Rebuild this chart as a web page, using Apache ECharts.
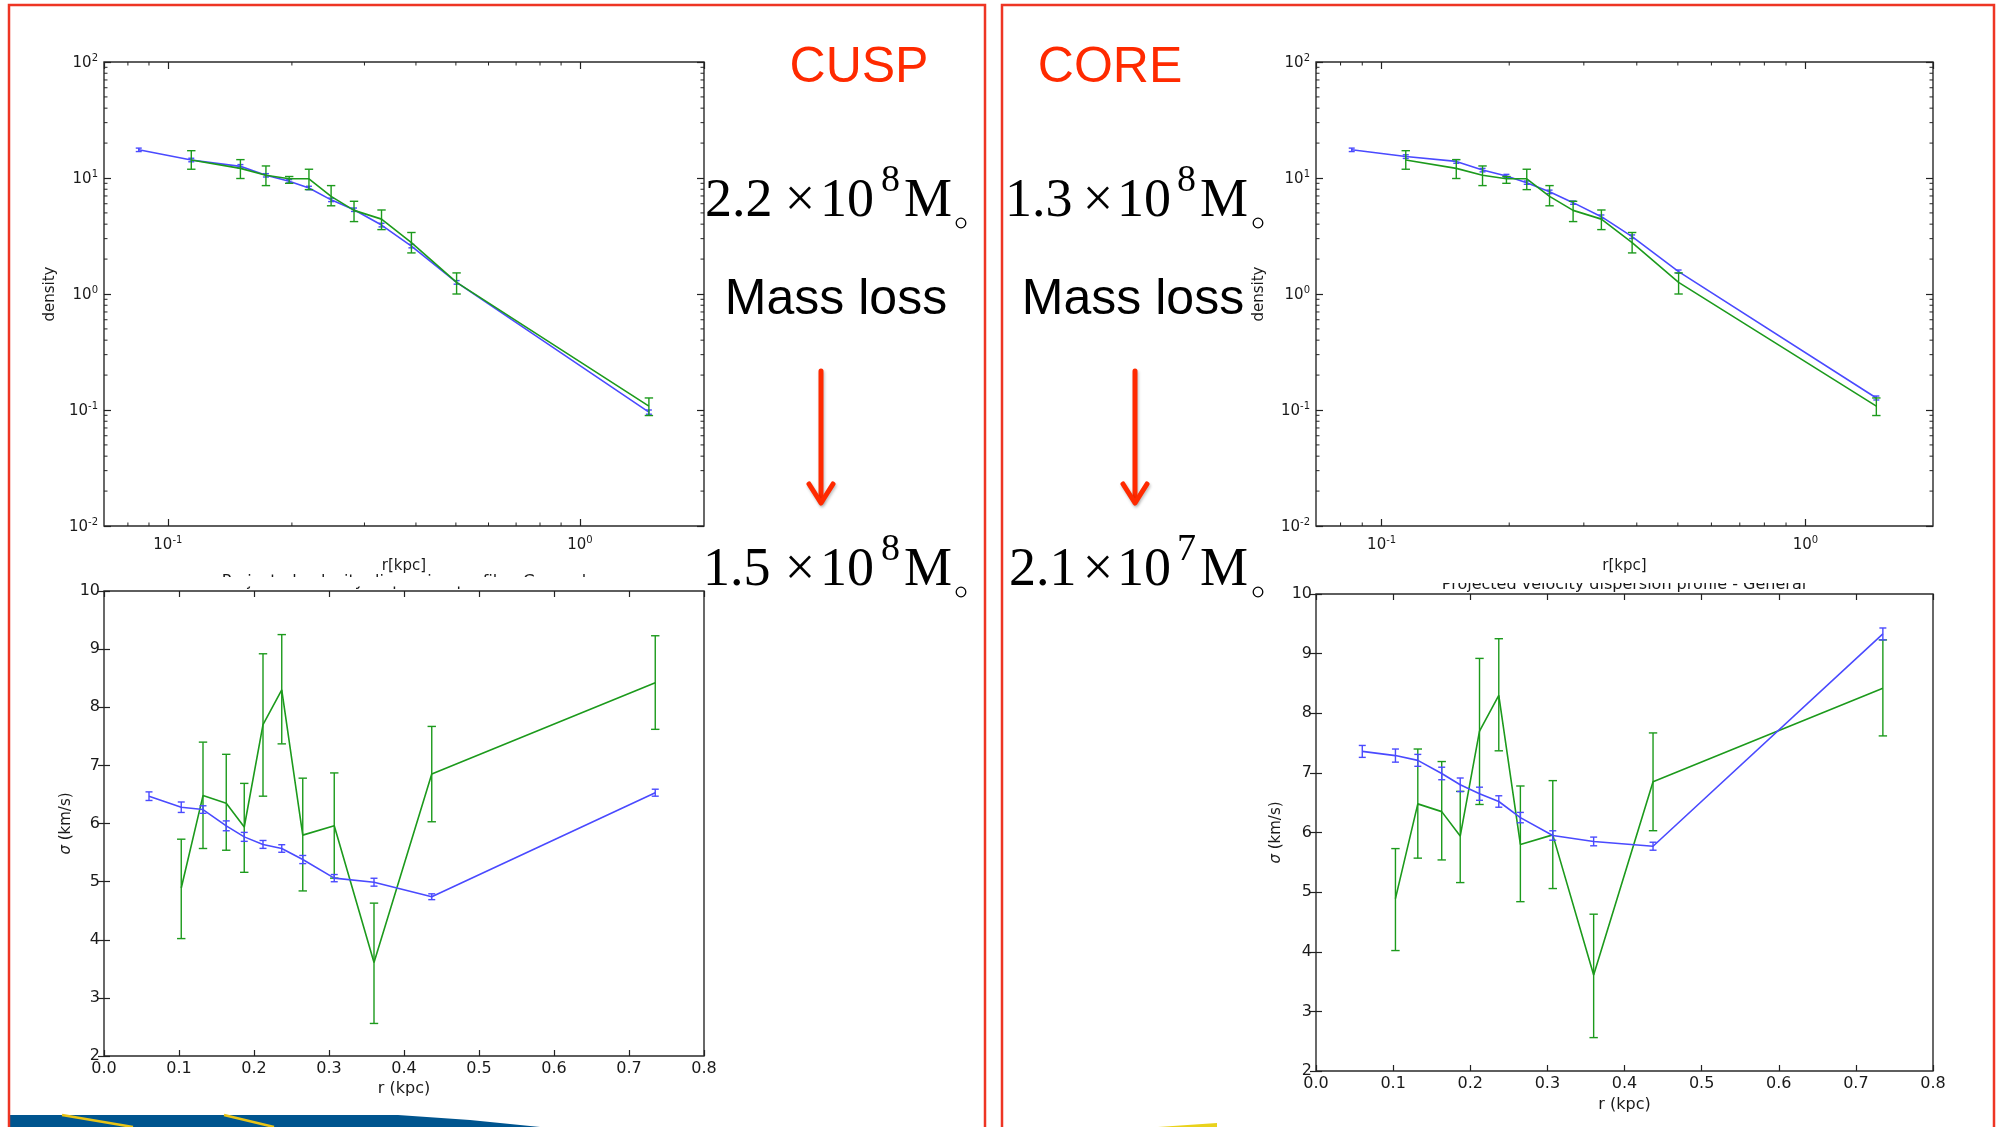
<!DOCTYPE html>
<html><head><meta charset="utf-8">
<script src="https://cdn.jsdelivr.net/npm/echarts@6/dist/echarts.min.js"></script>
<style>html,body{margin:0;padding:0;background:#fff}#c{width:2002px;height:1127px}</style>
</head><body><div id="c"></div><script>
// ---------------- DATA ----------------
// Density profiles (log-log); r in kpc
const densR_model = [0.085, 0.114, 0.150, 0.173, 0.197, 0.220, 0.249, 0.283, 0.330, 0.390, 0.502, 1.47];
const densR_obs   = [0.114, 0.150, 0.173, 0.197, 0.220, 0.249, 0.283, 0.330, 0.390, 0.502, 1.47];
const cuspDens    = [17.5, 14.3, 12.6, 10.55, 9.38, 8.21, 6.48, 5.33, 3.93, 2.59, 1.26, 0.096];
const cuspDensErr = [0.6, 0.5, 0.45, 0.35, 0.3, 0.28, 0.22, 0.18, 0.14, 0.09, 0.045, 0.004];
const coreDens    = [17.5, 15.3, 13.9, 11.7, 10.4, 9.12, 7.6, 6.13, 4.64, 3.12, 1.56, 0.127];
const coreDensErr = [0.6, 0.55, 0.5, 0.4, 0.35, 0.3, 0.26, 0.2, 0.16, 0.11, 0.05, 0.005];
const obsDens     = [14.3, 12.1, 10.55, 9.84, 9.84, 6.95, 5.26, 4.42, 2.77, 1.26, 0.108];
const obsDensLo   = [11.9, 9.9, 8.6, 9.0, 7.94, 5.76, 4.21, 3.59, 2.26, 1.0, 0.0896];
const obsDensHi   = [17.2, 14.4, 12.7, 10.3, 11.9, 8.6, 6.3, 5.3, 3.39, 1.52, 0.127];

// Projected velocity dispersion profiles; r in kpc, sigma in km/s
const sigR_model = [0.060, 0.103, 0.132, 0.163, 0.187, 0.212, 0.237, 0.265, 0.307, 0.360, 0.437, 0.735];
const sigR_obs   = [0.103, 0.132, 0.163, 0.187, 0.212, 0.237, 0.265, 0.307, 0.360, 0.437, 0.735];
const cuspSig    = [6.47, 6.28, 6.24, 5.96, 5.77, 5.64, 5.57, 5.38, 5.06, 4.99, 4.74, 6.53];
const cuspSigErr = [0.074, 0.09, 0.065, 0.085, 0.077, 0.068, 0.065, 0.07, 0.062, 0.068, 0.05, 0.06];
const coreSig    = [7.36, 7.29, 7.21, 6.99, 6.80, 6.65, 6.52, 6.25, 5.95, 5.85, 5.77, 9.33];
const coreSigErr = [0.10, 0.11, 0.10, 0.105, 0.114, 0.11, 0.096, 0.087, 0.079, 0.073, 0.067, 0.10];
const obsSig     = [4.89, 6.48, 6.35, 5.94, 7.70, 8.30, 5.80, 5.96, 3.61, 6.85, 8.42];
const obsSigLo   = [4.02, 5.57, 5.54, 5.16, 6.47, 7.37, 4.84, 5.06, 2.56, 6.03, 7.62];
const obsSigHi   = [5.73, 7.40, 7.19, 6.69, 8.92, 9.25, 6.78, 6.87, 4.63, 7.67, 9.23];

// Tick labels
const sigXLabels = ['0.0','0.1','0.2','0.3','0.4','0.5','0.6','0.7','0.8'];
const sigYLabels = ['2','3','4','5','6','7','8','9','10'];
const logMinorMultipliers = [2,3,4,5,6,7,8,9];
const logDecades = [0.01, 0.1, 1, 10];

// Slide texts
const panelTitles = ['CUSP', 'CORE'];
const massBefore = [['2.2','8'], ['1.3','8']];
const massAfter  = [['1.5','8'], ['2.1','7']];
const massLossText = 'Mass loss';
const sigmaTitle = 'Projected velocity dispersion profile - General';

// ---------------- HELPERS ----------------
const MPL = '"DejaVu Sans", sans-serif';
const TXT = '#1a1a1a';
const BLUE = '#4a4aff';
const GREEN = '#1c9a1c';
const minorTicksLog = [];
logDecades.forEach(d => logMinorMultipliers.forEach(m => minorTicksLog.push(+(d*m).toPrecision(3))));
const minorXTicks = [0.07, 0.08, 0.09].concat(minorTicksLog.filter(v => v > 0.1 && v < 2));
const minorYTicks = minorTicksLog.filter(v => v > 0.01 && v < 100);

const zip = (a, b) => a.map((v, i) => [v, b[i]]);
const zipErr = (x, y, lo, hi) => x.map((v, i) => [v, y[i], lo[i], hi[i]]);
const zipSym = (x, y, e) => x.map((v, i) => [v, y[i], y[i] - e[i], y[i] + e[i]]);

function supLabel(v) {
  const e = Math.round(Math.log10(v));
  return '{b|10}{s|' + e + '}';
}
const supRich = {
  b: {fontFamily: MPL, fontSize: 15, color: TXT, lineHeight: 18, verticalAlign: 'bottom'},
  s: {fontFamily: MPL, fontSize: 10, color: TXT, lineHeight: 10, verticalAlign: 'top'}
};
const tickStyle = {color: '#222', width: 1.2};

function densX(gi, pos) {
  const main = pos === 'bottom';
  return {
    type: 'log', logBase: 10, gridIndex: gi, position: pos, min: 0.07, max: 2, z: 45,
    axisLine: {show: false}, splitLine: {show: false},
    axisTick: {show: true, inside: true, length: 7, lineStyle: tickStyle},
    axisLabel: main ? {show: true, margin: 9, showMinLabel: false, showMaxLabel: false,
      formatter: supLabel, rich: supRich} : {show: false},
    name: main ? 'r[kpc]' : '', nameLocation: 'middle', nameGap: 33,
    nameTextStyle: {fontFamily: MPL, fontSize: 15, color: TXT}
  };
}
function densY(gi, pos, gap) {
  const main = pos === 'left';
  return {
    type: 'log', logBase: 10, gridIndex: gi, position: pos, min: 0.01, max: 100,
    axisLine: {show: false}, splitLine: {show: false},
    axisTick: {show: true, inside: true, length: 7, lineStyle: tickStyle},
    axisLabel: main ? {show: true, margin: 6, formatter: supLabel, rich: supRich} : {show: false},
    name: main ? 'density' : '', nameLocation: 'middle', nameGap: gap,
    nameTextStyle: {fontFamily: MPL, fontSize: 15, color: TXT}
  };
}
function sigX(gi, pos, gap) {
  const main = pos === 'bottom';
  return {
    type: 'value', gridIndex: gi, position: pos, min: 0, max: 0.8, interval: 0.1,
    axisLine: {show: false}, splitLine: {show: false},
    axisTick: {show: true, inside: true, length: 6, lineStyle: tickStyle},
    axisLabel: main ? {show: true, margin: 5, fontFamily: MPL, fontSize: 16, color: TXT,
      formatter: v => sigXLabels[Math.round(v * 10)]} : {show: false},
    name: main ? 'r (kpc)' : '', nameLocation: 'middle', nameGap: gap,
    nameTextStyle: {fontFamily: MPL, fontSize: 16, color: TXT}
  };
}
function sigY(gi, pos, gap) {
  const main = pos === 'left';
  return {
    type: 'value', gridIndex: gi, position: pos, min: 2, max: 10, interval: 1,
    axisLine: {show: false}, splitLine: {show: false},
    axisTick: {show: true, inside: true, length: 6, lineStyle: tickStyle},
    axisLabel: main ? {show: true, margin: 4, fontFamily: MPL, fontSize: 16, color: TXT,
      formatter: v => sigYLabels[Math.round(v) - 2]} : {show: false},
    name: main ? '{i|σ} (km/s)' : '', nameLocation: 'middle', nameGap: gap,
    nameTextStyle: {fontFamily: MPL, fontSize: 15, color: TXT,
      rich: {i: {fontFamily: MPL, fontSize: 15, fontStyle: 'italic', color: TXT}}}
  };
}

function lineSeries(gi, data, color, z) {
  return {type: 'line', xAxisIndex: gi * 2, yAxisIndex: gi * 2, data: data,
    symbol: 'none', showSymbol: false, lineStyle: {color: color, width: 1.6}, z: z,
    animation: false, silent: true};
}
function errSeries(gi, data, color, capHalf, lw, z) {
  return {
    type: 'custom', xAxisIndex: gi * 2, yAxisIndex: gi * 2, data: data, z: z,
    encode: {x: 0, y: [1, 2, 3]}, animation: false, silent: true,
    renderItem: function (params, api) {
      const x = api.value(0), lo = api.value(2), hi = api.value(3);
      const a = api.coord([x, lo]), b = api.coord([x, hi]);
      const st = {stroke: color, lineWidth: lw, fill: 'none'};
      return {type: 'group', children: [
        {type: 'line', shape: {x1: a[0], y1: a[1], x2: b[0], y2: b[1]}, style: st},
        {type: 'line', shape: {x1: a[0] - capHalf, y1: a[1], x2: a[0] + capHalf, y2: a[1]}, style: st},
        {type: 'line', shape: {x1: b[0] - capHalf, y1: b[1], x2: b[0] + capHalf, y2: b[1]}, style: st}
      ]};
    }
  };
}
function minorSeries(gi) {
  return {
    type: 'custom', xAxisIndex: gi * 2, yAxisIndex: gi * 2, data: [[1, 1]], z: 4,
    encode: {x: 0, y: 1}, animation: false, silent: true,
    renderItem: function (params, api) {
      const cs = params.coordSys;
      const kids = [];
      const st = {stroke: '#222', lineWidth: 1};
      const L = 3.5;
      minorXTicks.forEach(v => {
        const px = api.coord([v, 1])[0];
        if (px <= cs.x + 0.5 || px >= cs.x + cs.width - 0.5) return;
        kids.push({type: 'line', shape: {x1: px, y1: cs.y + cs.height, x2: px, y2: cs.y + cs.height - L}, style: st});
        kids.push({type: 'line', shape: {x1: px, y1: cs.y, x2: px, y2: cs.y + L}, style: st});
      });
      minorYTicks.forEach(v => {
        const py = api.coord([1, v])[1];
        kids.push({type: 'line', shape: {x1: cs.x, y1: py, x2: cs.x + L, y2: py}, style: st});
        kids.push({type: 'line', shape: {x1: cs.x + cs.width, y1: py, x2: cs.x + cs.width - L, y2: py}, style: st});
      });
      return {type: 'group', children: kids};
    }
  };
}

// ---------------- GRIDS / AXES / SERIES ----------------
const gridBox = {show: true, borderColor: '#2a2a2a', borderWidth: 1.4, backgroundColor: 'transparent', containLabel: false};
const grids = [
  Object.assign({left: 104, top: 62, width: 600, height: 464}, gridBox),
  Object.assign({left: 104, top: 591, width: 600, height: 465}, gridBox),
  Object.assign({left: 1316, top: 62, width: 617, height: 464}, gridBox),
  Object.assign({left: 1316, top: 594, width: 617, height: 477}, gridBox)
];
const xAxes = [
  densX(0, 'bottom'), densX(0, 'top'),
  sigX(1, 'bottom', 25), sigX(1, 'top', 0),
  densX(2, 'bottom'), densX(2, 'top'),
  sigX(3, 'bottom', 26), sigX(3, 'top', 0)
];
const yAxes = [
  densY(0, 'left', 46), densY(0, 'right', 0),
  sigY(1, 'left', 30), sigY(1, 'right', 0),
  densY(2, 'left', 49), densY(2, 'right', 0),
  sigY(3, 'left', 32), sigY(3, 'right', 0)
];
const series = [
  // CUSP density
  minorSeries(0),
  lineSeries(0, zip(densR_model, cuspDens), BLUE, 5),
  errSeries(0, zipSym(densR_model, cuspDens, cuspDensErr), BLUE, 3, 1.4, 5),
  lineSeries(0, zip(densR_obs, obsDens), GREEN, 6),
  errSeries(0, zipErr(densR_obs, obsDens, obsDensLo, obsDensHi), GREEN, 4.2, 1.4, 6),
  // CUSP sigma
  lineSeries(1, zip(sigR_obs, obsSig), GREEN, 5),
  errSeries(1, zipErr(sigR_obs, obsSig, obsSigLo, obsSigHi), GREEN, 4.2, 1.4, 5),
  lineSeries(1, zip(sigR_model, cuspSig), BLUE, 6),
  errSeries(1, zipSym(sigR_model, cuspSig, cuspSigErr), BLUE, 3.5, 1.4, 6),
  // CORE density
  minorSeries(2),
  lineSeries(2, zip(densR_model, coreDens), BLUE, 5),
  errSeries(2, zipSym(densR_model, coreDens, coreDensErr), BLUE, 3, 1.4, 5),
  lineSeries(2, zip(densR_obs, obsDens), GREEN, 6),
  errSeries(2, zipErr(densR_obs, obsDens, obsDensLo, obsDensHi), GREEN, 4.2, 1.4, 6),
  // CORE sigma
  lineSeries(3, zip(sigR_obs, obsSig), GREEN, 5),
  errSeries(3, zipErr(sigR_obs, obsSig, obsSigLo, obsSigHi), GREEN, 4.2, 1.4, 5),
  lineSeries(3, zip(sigR_model, coreSig), BLUE, 6),
  errSeries(3, zipSym(sigR_model, coreSig, coreSigErr), BLUE, 3.5, 1.4, 6)
];

// ---------------- SLIDE GRAPHICS ----------------
const RED = '#ff2a00';
const FRAME_RED = '#ee3524';
const SERIF = '"Liberation Serif", "Times New Roman", serif';
const SANS = '"Liberation Sans", Arial, sans-serif';
function txt(x, y, s, font, color, align, z) {
  return {type: 'text', x: x, y: y, z: z || 60,
    style: {text: s, font: font, fill: color, align: align || 'left', verticalAlign: 'middle'}};
}
function massLabel(col, baseline, pair, mantX) {
  const yMain = baseline - 0.3375 * 54;
  const ySup = baseline - 25.7 - 0.3375 * 38;
  const F = '54px ' + SERIF, FS = '38px ' + SERIF;
  return [
    txt(mantX, yMain, pair[0], F, '#000'),
    txt(col.times, yMain, '×', F, '#000', 'center'),
    txt(col.ten, yMain, '10', F, '#000'),
    txt(col.sup, ySup, pair[1], FS, '#000'),
    txt(col.M, yMain, 'M', F, '#000'),
    {type: 'circle', z: 60, shape: {cx: col.o, cy: baseline + 3, r: 4.8},
      style: {fill: 'none', stroke: '#000', lineWidth: 1.3}}
  ];
}
function arrow(x) {
  const st = {stroke: RED, lineWidth: 5, fill: 'none', lineCap: 'round', lineJoin: 'round',
    shadowBlur: 3, shadowColor: 'rgba(0,0,0,0.25)', shadowOffsetX: 1, shadowOffsetY: 2};
  return [
    {type: 'line', z: 60, shape: {x1: x, y1: 371, x2: x, y2: 500}, style: st},
    {type: 'polyline', z: 60, shape: {points: [[x - 12, 484], [x, 503], [x + 12, 484]]}, style: st}
  ];
}
const colCusp = {times: 800, ten: 820, sup: 881, M: 904, o: 961};
const colCore = {times: 1098, ten: 1117, sup: 1177, M: 1200, o: 1258};

let graphics = [];
// decorative bottom band
graphics.push({type: 'polygon', z: 10, shape: {points: [[10, 1115], [398, 1115], [470, 1120], [540, 1127], [10, 1127]]},
  style: {fill: '#00558f'}});
graphics.push({type: 'line', z: 11, shape: {x1: 62, y1: 1115, x2: 133, y2: 1127}, style: {stroke: '#e8c417', lineWidth: 2.5}});
graphics.push({type: 'line', z: 11, shape: {x1: 224, y1: 1115, x2: 274, y2: 1127}, style: {stroke: '#e8c417', lineWidth: 2.5}});
graphics.push({type: 'polygon', z: 10, shape: {points: [[1158, 1127], [1217, 1123], [1217, 1127]]}, style: {fill: '#e9d21c'}});
// red frames
graphics.push({type: 'rect', z: 50, shape: {x: 9, y: 5, width: 976, height: 1150}, style: {fill: 'none', stroke: FRAME_RED, lineWidth: 2.5}});
graphics.push({type: 'rect', z: 50, shape: {x: 1002, y: 5, width: 992, height: 1150}, style: {fill: 'none', stroke: FRAME_RED, lineWidth: 2.5}});
// headings
graphics.push(txt(859, 86 - 0.3465 * 50, panelTitles[0], '50px ' + SANS, RED, 'center'));
graphics.push(txt(1110, 86 - 0.3465 * 50, panelTitles[1], '50px ' + SANS, RED, 'center'));
graphics.push(txt(836, 318 - 0.3465 * 50, massLossText, '50px ' + SANS, '#000', 'center'));
graphics.push(txt(1133, 318 - 0.3465 * 50, massLossText, '50px ' + SANS, '#000', 'center'));
graphics = graphics.concat(massLabel(colCusp, 220, massBefore[0], 705));
graphics = graphics.concat(massLabel(colCusp, 589, massAfter[0], 703));
graphics = graphics.concat(massLabel(colCore, 220, massBefore[1], 1005));
graphics = graphics.concat(massLabel(colCore, 589, massAfter[1], 1009));
graphics = graphics.concat(arrow(821), arrow(1135));
// partially hidden sigma-plot titles (top part hidden behind the upper figure)
graphics.push(txt(404, 587 - 5.5, sigmaTitle, '16px ' + MPL, TXT, 'center', 40));
graphics.push({type: 'rect', z: 41, shape: {x: 150, y: 577, width: 520, height: 9.5}, style: {fill: '#fff'}});
graphics.push(txt(1624, 590 - 5.5, sigmaTitle, '16px ' + MPL, TXT, 'center', 40));
graphics.push({type: 'rect', z: 41, shape: {x: 1370, y: 576, width: 520, height: 7}, style: {fill: '#fff'}});

const chart = echarts.init(document.getElementById('c'), null, {renderer: 'canvas'});
chart.setOption({
  backgroundColor: '#fff',
  animation: false,
  grid: grids,
  xAxis: xAxes,
  yAxis: yAxes,
  series: series,
  graphic: graphics
});
</script></body></html>
